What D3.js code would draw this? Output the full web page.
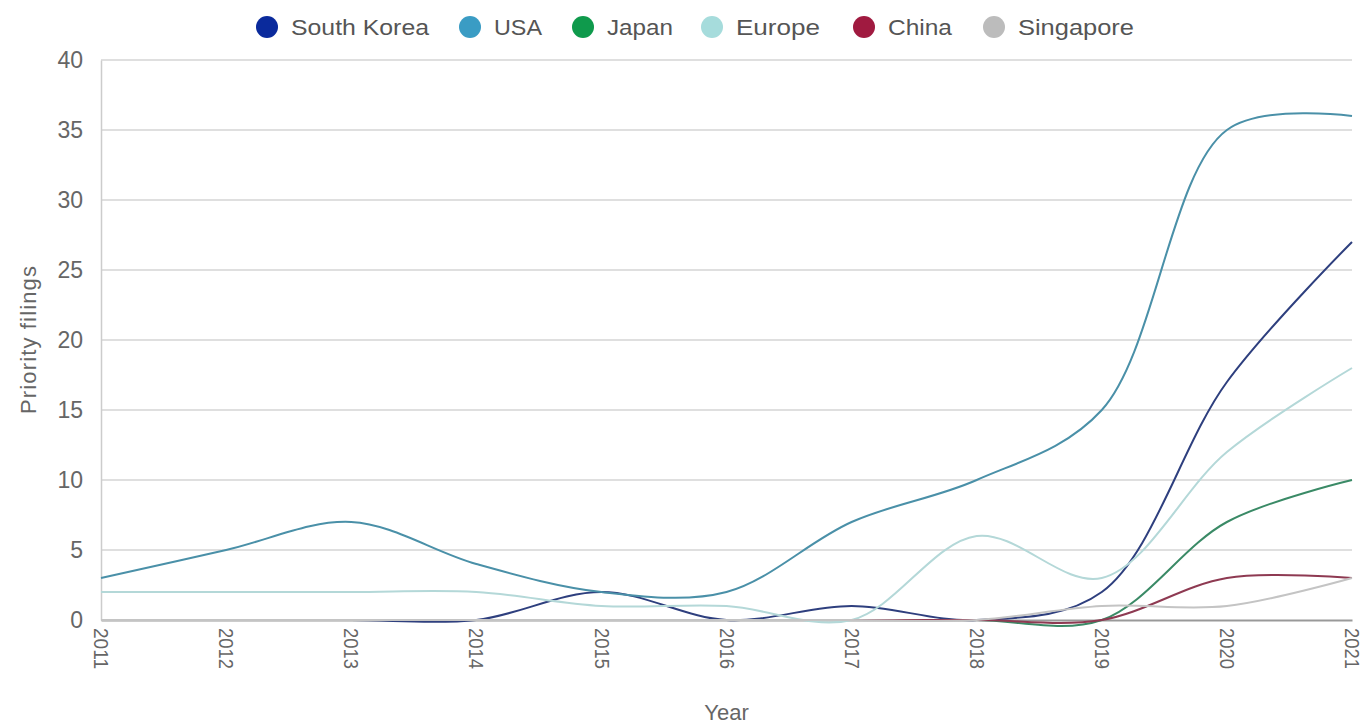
<!DOCTYPE html>
<html>
<head>
<meta charset="utf-8">
<script src="https://cdn.jsdelivr.net/npm/d3@7"></script>
<style>
  body { margin: 0; background: #fff; }
  svg text { font-family: "Liberation Sans", Arial, sans-serif; }
</style>
</head>
<body>
<svg id="chart" width="1371" height="728"></svg>
<script>
var years = [2011, 2012, 2013, 2014, 2015, 2016, 2017, 2018, 2019, 2020, 2021];
var series_names = ['South Korea', 'USA', 'Japan', 'Europe', 'China', 'Singapore'];
var south_korea = [0, 0, 0, 0, 2, 0, 1, 0, 2, 17, 27];
var usa = [3, 5, 7, 4, 2, 2, 7, 10, 15, 35, 36];
var japan = [0, 0, 0, 0, 0, 0, 0, 0, 0, 7, 10];
var europe = [2, 2, 2, 2, 1, 1, 0, 6, 3, 12, 18];
var china = [0, 0, 0, 0, 0, 0, 0, 0, 0, 3, 3];
var singapore = [0, 0, 0, 0, 0, 0, 0, 0, 1, 1, 3];
var y_ticks = [0, 5, 10, 15, 20, 25, 30, 35, 40];

var legend_colors = ['#0a2a9c', '#3a9cc4', '#0f9a4c', '#a6dcdc', '#a01a40', '#bcbcbc'];
var line_colors = ['#2e3f7e', '#4a90a8', '#3a8a66', '#b4d8d8', '#8e3a52', '#c4c4c4'];

var values = [south_korea, usa, japan, europe, china, singapore];
var series = series_names.map((n, i) => ({name: n, values: values[i], color: legend_colors[i], line: line_colors[i]}));

var margin = {top: 60, right: 19, bottom: 108, left: 101};
var width = 1371 - margin.left - margin.right;
var height = 728 - margin.top - margin.bottom;

var svg = d3.select('#chart');
var g = svg.append('g').attr('transform', 'translate(' + margin.left + ',' + margin.top + ')');

var x = d3.scaleLinear().domain([2011, 2021]).range([0, width]);
var y = d3.scaleLinear().domain([0, 40]).range([height, 0]);

// gridlines
g.selectAll('.grid')
  .data(y_ticks.filter(t => t > 0))
  .enter()
  .append('line')
  .attr('x1', 0).attr('x2', width)
  .attr('y1', d => y(d)).attr('y2', d => y(d))
  .attr('stroke', '#d4d4d4')
  .attr('stroke-width', 1.5);

// y axis
var yAxis = g.append('g')
  .call(d3.axisLeft(y).tickValues(y_ticks).tickSize(0).tickPadding(18));
yAxis.select('.domain').attr('stroke', '#cccccc').attr('stroke-width', 1.5);
yAxis.selectAll('text').attr('fill', '#666').style('font-size', '23px');

// x axis
var xAxis = g.append('g')
  .attr('transform', 'translate(0,' + height + ')')
  .call(d3.axisBottom(x).tickValues(years).tickFormat(d3.format('d')).tickSize(0));
xAxis.select('.domain').attr('stroke', '#999').attr('stroke-width', 2);
xAxis.selectAll('text')
  .attr('fill', '#666')
  .style('font-size', '21px')
  .attr('text-anchor', 'start')
  .attr('transform', 'rotate(90)')
  .attr('x', 8)
  .attr('y', 0)
  .attr('dy', '0.35em')
  .attr('textLength', 41)
  .attr('lengthAdjust', 'spacingAndGlyphs');

// lines
var line = d3.line()
  .x((d, i) => x(years[i]))
  .y(d => y(d))
  .curve(d3.curveCatmullRom.alpha(0.5));

g.selectAll('.series')
  .data(series)
  .enter()
  .append('path')
  .attr('fill', 'none')
  .attr('stroke', d => d.line)
  .attr('stroke-width', 2)
  .attr('d', d => line(d.values));

// axis titles
svg.append('text')
  .attr('x', margin.left + width / 2)
  .attr('y', 720)
  .attr('text-anchor', 'middle')
  .attr('fill', '#666')
  .style('font-size', '22px')
  .text('Year');

svg.append('text')
  .attr('transform', 'translate(36,' + (margin.top + height / 2) + ') rotate(-90)')
  .attr('text-anchor', 'middle')
  .attr('fill', '#666')
  .style('font-size', '22px')
  .attr('textLength', 148)
  .text('Priority filings');

// legend
var legend_x = [267, 470, 583, 712, 864, 994];
var legend_w = [138, 48, 66, 84, 64, 116];
var legend = svg.selectAll('.legend')
  .data(series)
  .enter()
  .append('g')
  .attr('transform', (d, i) => 'translate(' + legend_x[i] + ',27)');

legend.append('circle')
  .attr('r', 11)
  .attr('fill', d => d.color);

legend.append('text')
  .attr('x', 24)
  .attr('dy', '0.35em')
  .attr('fill', '#555')
  .style('font-size', '22px')
  .attr('textLength', (d, i) => legend_w[i])
  .attr('lengthAdjust', 'spacingAndGlyphs')
  .text(d => d.name);
</script>
</body>
</html>
